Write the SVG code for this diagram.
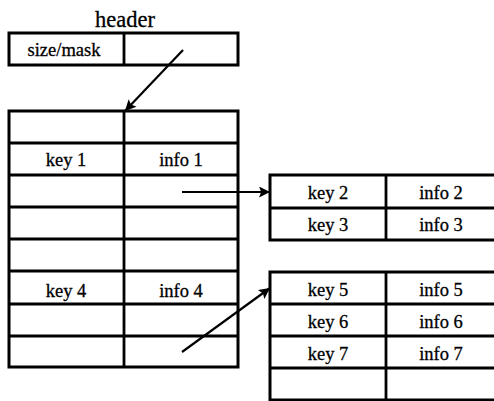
<svg xmlns="http://www.w3.org/2000/svg" width="494" height="401" viewBox="0 0 494 401">
<defs>
<style>
.box{fill:#fff;stroke:#000;stroke-width:3}
.ln{stroke:#000;stroke-width:2.8;fill:none}
.lbl{font-size:18.5px;fill:#000;stroke:#000;stroke-width:0.3;text-anchor:middle}
.h{font-size:22.5px}
.arr{stroke:#000;stroke-width:2.2;fill:none;marker-end:url(#ah)}
</style>
<marker id="ah" viewBox="0 0 10 10" refX="10" refY="5" markerWidth="13" markerHeight="11" markerUnits="userSpaceOnUse" orient="auto">
<path d="M0,0 L10,5 L0,10 L2,5 z" fill="#000"/>
</marker>
</defs>
<rect width="494" height="401" fill="#fff"/>
<g font-family="Liberation Serif, Times New Roman, serif">
<g id="header">
<text class="lbl h" x="125" y="27">header</text>
<rect class="box" x="9" y="33" width="229" height="32"/>
<line class="ln" x1="124" y1="33" x2="124" y2="65"/>
<text class="lbl" x="64" y="56">size/mask</text>
</g>
<g id="table">
<rect class="box" x="9" y="111" width="229" height="256"/>
<line class="ln" x1="124" y1="111" x2="124" y2="367"/>
<line class="ln" x1="9" y1="143" x2="238" y2="143"/>
<line class="ln" x1="9" y1="175" x2="238" y2="175"/>
<line class="ln" x1="9" y1="207" x2="238" y2="207"/>
<line class="ln" x1="9" y1="239" x2="238" y2="239"/>
<line class="ln" x1="9" y1="271" x2="238" y2="271"/>
<line class="ln" x1="9" y1="304" x2="238" y2="304"/>
<line class="ln" x1="9" y1="336" x2="238" y2="336"/>
<text class="lbl" x="66" y="166">key 1</text>
<text class="lbl" x="181" y="166">info 1</text>
<text class="lbl" x="66" y="297">key 4</text>
<text class="lbl" x="181" y="297">info 4</text>
</g>
<g id="bucket1">
<rect class="box" x="270" y="175" width="240" height="65"/>
<line class="ln" x1="386" y1="175" x2="386" y2="240"/>
<line class="ln" x1="270" y1="208" x2="494" y2="208"/>
<text class="lbl" x="328" y="199">key 2</text>
<text class="lbl" x="441" y="199">info 2</text>
<text class="lbl" x="328" y="231">key 3</text>
<text class="lbl" x="441" y="231">info 3</text>
</g>
<g id="bucket2">
<rect class="box" x="270" y="272" width="240" height="128"/>
<line class="ln" x1="386" y1="272" x2="386" y2="400"/>
<line class="ln" x1="270" y1="304" x2="494" y2="304"/>
<line class="ln" x1="270" y1="336" x2="494" y2="336"/>
<line class="ln" x1="270" y1="368" x2="494" y2="368"/>
<text class="lbl" x="328" y="296">key 5</text>
<text class="lbl" x="441" y="296">info 5</text>
<text class="lbl" x="328" y="328">key 6</text>
<text class="lbl" x="441" y="328">info 6</text>
<text class="lbl" x="328" y="360">key 7</text>
<text class="lbl" x="441" y="360">info 7</text>
</g>
</g>
<g id="connectors">
<line class="arr" x1="183" y1="50" x2="125" y2="111"/>
<line class="arr" x1="182" y1="192" x2="270" y2="192"/>
<line class="arr" x1="182" y1="352" x2="270" y2="288"/>
</g>
</svg>
